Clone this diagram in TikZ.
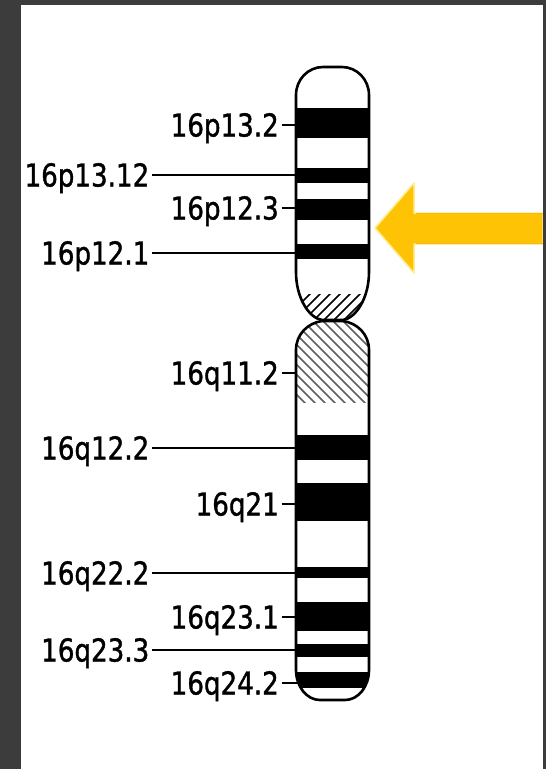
\documentclass[tikz,border=0pt]{standalone}
\usepackage{fontspec}
\setmainfont{DejaVu Sans}[FakeStretch=0.83,FakeBold=1.2]
\definecolor{framegray}{RGB}{60,60,60}
\definecolor{hatchgray}{RGB}{95,95,95}
\definecolor{arrowgold}{RGB}{255,195,5}
\definecolor{arrowhalo}{RGB}{255,238,150}
% p arm outline: rounded top, narrowing to the centromere
\newcommand\parmpath{(296,95) arc[start angle=180,end angle=90,x radius=27pt,y radius=28pt]
  -- (342,67) arc[start angle=90,end angle=0,x radius=27pt,y radius=28pt]
  -- (369,272) .. controls (369,298) and (356,318) .. (343,320)
  -- (322,320) .. controls (309,318) and (296,298) .. (296,272) -- cycle}
% q arm outline: widening from the centromere, rounded bottom
\newcommand\qarmpath{(322,321) -- (343,321) .. controls (357,323) and (369,334) .. (369,350)
  -- (369,670) arc[start angle=0,end angle=-90,x radius=24pt,y radius=30pt]
  -- (320,700) arc[start angle=270,end angle=180,x radius=24pt,y radius=30pt]
  -- (296,350) .. controls (296,334) and (308,323) .. (322,321) -- cycle}
\begin{document}
\begin{tikzpicture}[x=1pt,y=-1pt,
  outline/.style={draw=black,line width=2.6pt},
  band/.style={fill=black},
  lbl/.style={inner xsep=2.5pt,inner ysep=0pt,anchor=east,text height=23pt,text depth=0pt,
    font=\fontsize{31.5}{36}\selectfont},
  tick/.style={line width=2.6pt}]
\useasboundingbox (0,0) rectangle (546,769);
% frame
\fill[framegray] (0,0) rectangle (546,769);
\fill[white] (21,5) rectangle (543,769);

% p arm bands and centromere hatching
\begin{scope}
  \clip \parmpath;
  \foreach \a/\b in {108/138,168/183,199/220,244/259}
    \fill[band] (290,\a) rectangle (375,\b);
  \begin{scope}
    \clip (290,294) rectangle (375,322);
    \foreach \k in {240,250,...,400}
      \draw[line width=1.7pt] (\k,324) -- (\k+34,290);
  \end{scope}
\end{scope}
\draw[outline] \parmpath;

% q arm bands and heterochromatin hatching
\begin{scope}
  \clip \qarmpath;
  \foreach \a/\b in {435/460,483/521,567/578,602/631,644/657,672/688}
    \fill[band] (290,\a) rectangle (375,\b);
  \begin{scope}
    \clip (290,318) rectangle (375,402);
    \foreach \k in {180,190,...,380}
      \draw[hatchgray,line width=1.5pt] (\k,318) -- (\k+90,408);
  \end{scope}
\end{scope}
\draw[outline] \qarmpath;

% band labels with their leader lines
\foreach \n/\t/\x/\y/\e in {
  a/16p13.2/281.5/125/296, b/16p13.12/152/175/296, c/16p12.3/281.5/208/296,
  d/16p12.1/152/253/296, e/16q11.2/281.5/373/296, f/16q12.2/152/448/296,
  g/16q21/281.5/504/296, h/16q22.2/152/573/296, i/16q23.1/281.5/617/296,
  j/16q23.3/152/650/296, k/16q24.2/281.5/683/298.5}{
  \node[lbl] (l\n) at (\x,\y) {\t};
  \coordinate (c\n) at (\e,\y);
  \draw[tick] (l\n) -- (c\n);
}

% pointer arrow
\coordinate (tip) at (375,228);
\path[fill=arrowgold,draw=arrowhalo,line width=1.5pt,line join=round]
  (tip) -- (414,183) -- (414,213) -- (543,213) -- (543,244) -- (414,244) -- (414,273) -- cycle;
\draw[arrowgold!85!brown,line width=1pt] (416,213.5) -- (543,213.5) (416,243.5) -- (543,243.5);
\fill[framegray] (543,5) rectangle (546,769);
\end{tikzpicture}
\end{document}
